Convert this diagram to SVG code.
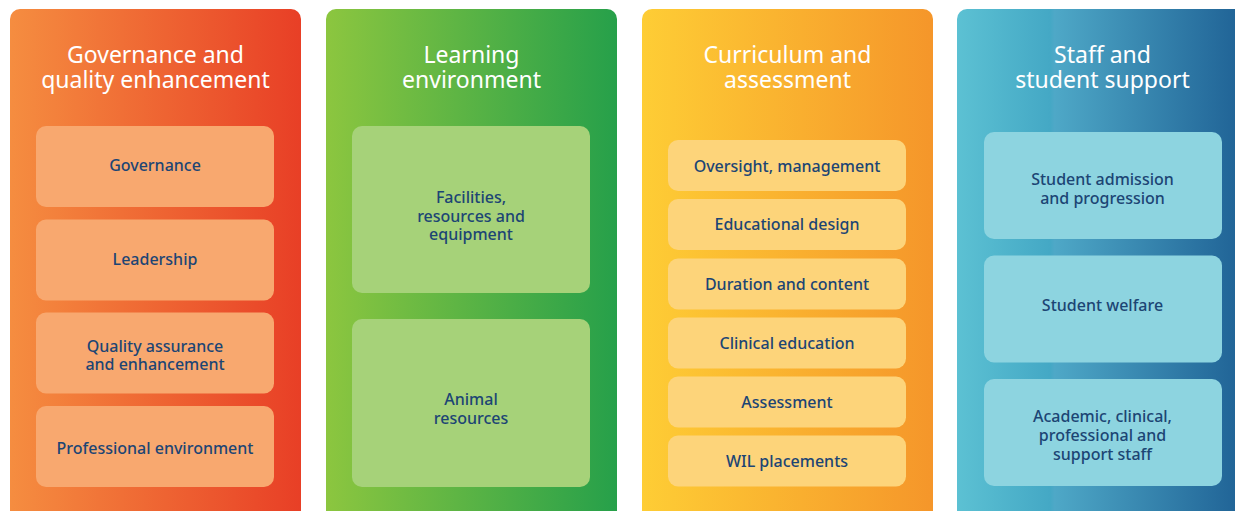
<svg xmlns="http://www.w3.org/2000/svg" width="1235" height="511" viewBox="0 0 1235 511">
<defs>
<linearGradient id="g1" x1="0" y1="0" x2="1" y2="0"><stop offset="0" stop-color="#F58D40"/><stop offset="1" stop-color="#E83F26"/></linearGradient>
<linearGradient id="g2" x1="0" y1="0" x2="1" y2="0"><stop offset="0" stop-color="#8CC63F"/><stop offset="1" stop-color="#26A04A"/></linearGradient>
<linearGradient id="g3" x1="0" y1="0" x2="1" y2="0"><stop offset="0" stop-color="#FECD35"/><stop offset="1" stop-color="#F5962A"/></linearGradient>
<linearGradient id="g4" x1="0" y1="0" x2="1" y2="0"><stop offset="0" stop-color="#5CC1D3"/><stop offset="0.32" stop-color="#44A8C5"/><stop offset="0.335" stop-color="#4EA8C7"/><stop offset="1" stop-color="#1E6094"/></linearGradient>
<style>
.col{stroke:none}
.title{font-family:"Noto Sans","DejaVu Sans",sans-serif;font-size:23px;fill:#FFFFFF;text-anchor:middle}
.lbl{font-family:"Noto Sans","DejaVu Sans",sans-serif;font-size:16px;font-weight:500;fill:#1C4574;text-anchor:middle}
.b1{fill:#F8A86F}
.b2{fill:#A6D279}
.b3{fill:#FDD47A}
.b4{fill:#8DD4E0}
</style>
</defs>
<g id="col-governance">
<rect class="col" x="10" y="9" width="291" height="520" rx="10" fill="url(#g1)"/>
<text class="title" x="155.5" y="63">Governance and</text>
<text class="title" x="155.5" y="88">quality enhancement</text>
<g id="n-governance"><rect class="b1" x="36" y="126" width="238" height="81" rx="10"/><text class="lbl" x="155" y="171">Governance</text></g>
<g id="n-leadership"><rect class="b1" x="36" y="219.5" width="238" height="81" rx="10"/><text class="lbl" x="155" y="265">Leadership</text></g>
<g id="n-quality"><rect class="b1" x="36" y="312.5" width="238" height="81" rx="10"/><text class="lbl" x="155" y="351.5">Quality assurance</text><text class="lbl" x="155" y="370">and enhancement</text></g>
<g id="n-professional"><rect class="b1" x="36" y="406" width="238" height="81" rx="10"/><text class="lbl" x="155" y="453.5">Professional environment</text></g>
</g>
<g id="col-learning">
<rect class="col" x="326" y="9" width="291" height="520" rx="10" fill="url(#g2)"/>
<text class="title" x="471.5" y="63">Learning</text>
<text class="title" x="471.5" y="88">environment</text>
<g id="n-facilities"><rect class="b2" x="352" y="126" width="238" height="167" rx="10"/><text class="lbl" x="471" y="203">Facilities,</text><text class="lbl" x="471" y="221.5">resources and</text><text class="lbl" x="471" y="240">equipment</text></g>
<g id="n-animal"><rect class="b2" x="352" y="319" width="238" height="168" rx="10"/><text class="lbl" x="471" y="405">Animal</text><text class="lbl" x="471" y="423.5">resources</text></g>
</g>
<g id="col-curriculum">
<rect class="col" x="642" y="9" width="291" height="520" rx="10" fill="url(#g3)"/>
<text class="title" x="787.5" y="63">Curriculum and</text>
<text class="title" x="787.5" y="88">assessment</text>
<g id="n-oversight"><rect class="b3" x="668" y="140" width="238" height="51" rx="10"/><text class="lbl" x="787" y="171.5">Oversight, management</text></g>
<g id="n-design"><rect class="b3" x="668" y="199" width="238" height="51" rx="10"/><text class="lbl" x="787" y="230">Educational design</text></g>
<g id="n-duration"><rect class="b3" x="668" y="258.5" width="238" height="51" rx="10"/><text class="lbl" x="787" y="289.5">Duration and content</text></g>
<g id="n-clinical"><rect class="b3" x="668" y="317.5" width="238" height="51" rx="10"/><text class="lbl" x="787" y="348.5">Clinical education</text></g>
<g id="n-assessment"><rect class="b3" x="668" y="376.5" width="238" height="51" rx="10"/><text class="lbl" x="787" y="407.5">Assessment</text></g>
<g id="n-wil"><rect class="b3" x="668" y="435.5" width="238" height="51" rx="10"/><text class="lbl" x="787" y="466.5">WIL placements</text></g>
</g>
<g id="col-staff">
<rect class="col" x="957" y="9" width="291" height="520" rx="10" fill="url(#g4)"/>
<text class="title" x="1102.5" y="63">Staff and</text>
<text class="title" x="1102.5" y="88">student support</text>
<g id="n-admission"><rect class="b4" x="984" y="132" width="238" height="107" rx="10"/><text class="lbl" x="1102.5" y="185">Student admission</text><text class="lbl" x="1102.5" y="204">and progression</text></g>
<g id="n-welfare"><rect class="b4" x="984" y="255.5" width="238" height="107" rx="10"/><text class="lbl" x="1102.5" y="311">Student welfare</text></g>
<g id="n-staff"><rect class="b4" x="984" y="379" width="238" height="107" rx="10"/><text class="lbl" x="1102.5" y="422">Academic, clinical,</text><text class="lbl" x="1102.5" y="441">professional and</text><text class="lbl" x="1102.5" y="460">support staff</text></g>
</g>
<g id="connectors"/>
</svg>
